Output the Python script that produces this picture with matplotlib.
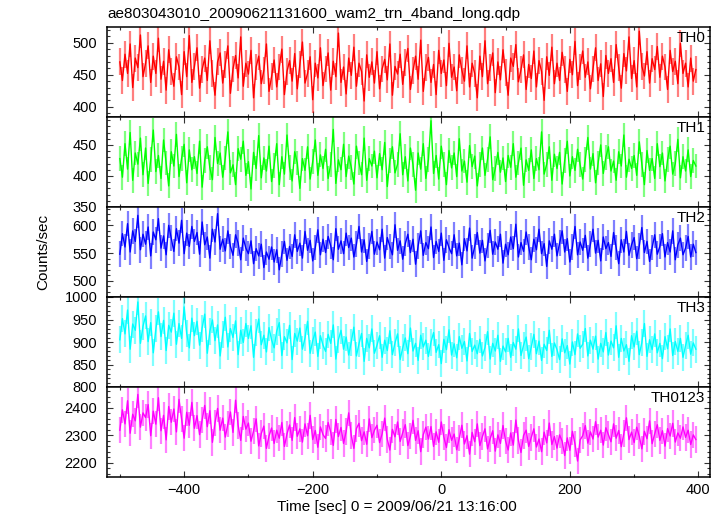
import matplotlib
matplotlib.use("Agg")
import matplotlib.pyplot as plt
from matplotlib.ticker import MultipleLocator
import numpy as np

plt.rcParams['font.family'] = ['Liberation Sans', 'DejaVu Sans']

# 光变曲线：4 s 一个bin，从 -500 s 开始
bin_start = -500
bin_width = 4
n_bins = 225

th0 = [
    470, 441, 482, 452, 498, 430, 476, 461, 512, 447,
    468, 495, 438, 479, 452, 507, 443, 471, 426, 489,
    455, 432, 478, 462, 419, 486, 447, 511, 438, 463,
    492, 429, 458, 476, 441, 503, 452, 418, 470, 484,
    437, 466, 495, 421, 459, 480, 445, 509, 432, 468,
    451, 488, 414, 462, 479, 436, 457, 498, 424, 447,
    473, 431, 462, 490, 419, 455, 472, 440, 483, 428,
    466, 501, 437, 452, 478, 411, 468, 445, 492, 433,
    459, 484, 426, 471, 447, 515, 438, 462, 420, 476,
    449, 493, 432, 468, 455, 409, 481, 446, 470, 437,
    486, 428, 459, 474, 442, 498, 418, 463, 451, 482,
    435, 469, 491, 427, 456, 479, 443, 504, 424, 461,
    477, 438, 466, 419, 488, 452, 473, 433, 499, 446,
    462, 425, 481, 457, 440, 495, 431, 468, 452, 414,
    479, 447, 503, 436, 461, 484, 422, 470, 442, 489,
    453, 418, 476, 463, 497, 439, 458, 481, 427, 466,
    444, 487, 431, 472, 455, 410, 478, 449, 493, 436,
    468, 441, 485, 458, 424, 474, 450, 502, 433, 462,
    487, 446, 470, 428, 459, 492, 441, 467, 416, 480,
    452, 475, 438, 497, 461, 429, 483, 456, 509, 444,
    472, 431, 518, 463, 448, 486, 437, 475, 458, 494,
    446, 479, 462, 427, 488, 455, 471, 436, 499, 452,
    468, 431, 476, 440, 458,
]

th1 = [
    428, 398, 452, 411, 470, 393, 437, 419, 461, 402,
    445, 388, 426, 474, 407, 433, 396, 458, 421, 384,
    439, 416, 467, 399, 428, 451, 389, 442, 410, 431,
    404, 456, 382, 425, 447, 413, 394, 462, 420, 437,
    398, 429, 471, 405, 418, 386, 444, 427, 456, 401,
    423, 379, 438, 412, 465, 397, 429, 408, 448, 391,
    417, 452, 386, 431, 403, 466, 414, 392, 439, 421,
    380, 428, 409, 447, 395, 423, 458, 401, 434, 412,
    443, 396, 419, 475, 388, 426, 410, 451, 399, 432,
    414, 387, 448, 421, 402, 461, 393, 428, 416, 440,
    397, 436, 410, 454, 383, 425, 447, 405, 419, 468,
    402, 431, 392, 445, 418, 377, 437, 411, 452, 396,
    426, 489, 404, 433, 395, 448, 419, 386, 441, 413,
    437, 399, 460, 408, 424, 390, 449, 415, 432, 384,
    418, 445, 401, 427, 463, 394, 412, 438, 406, 429,
    391, 433, 414, 452, 398, 421, 445, 385, 426, 409,
    442, 396, 428, 410, 471, 403, 419, 447, 393, 435,
    412, 438, 387, 425, 456, 400, 431, 409, 443, 418,
    395, 427, 462, 411, 436, 389, 421, 450, 404, 430,
    447, 408, 424, 393, 439, 416, 466, 398, 427, 412,
    433, 401, 455, 419, 386, 441, 409, 428, 396, 452,
    415, 437, 392, 426, 448, 403, 420, 459, 397, 431,
    408, 442, 399, 425, 416,
]

th2 = [
    548, 585, 561, 603, 552, 590, 571, 618, 556, 584,
    566, 597, 545, 588, 574, 612, 559, 581, 547, 600,
    577, 553, 594, 568, 609, 549, 586, 562, 598, 571,
    587, 548, 606, 565, 579, 541, 593, 570, 621, 557,
    575, 554, 590, 562, 546, 583, 568, 538, 577, 559,
    549, 572, 531, 558, 545, 566, 524, 552, 539, 561,
    534, 556, 520, 548, 571, 537, 562, 544, 583, 553,
    568, 541, 589, 555, 573, 536, 560, 592, 547, 575,
    551, 580, 563, 538, 594, 557, 572, 549, 586, 560,
    577, 543, 566, 598, 552, 574, 535, 563, 589, 548,
    570, 556, 593, 541, 578, 562, 547, 601, 555, 572,
    539, 567, 584, 551, 575, 530, 563, 590, 546, 569,
    558, 597, 542, 571, 553, 586, 537, 574, 560, 549,
    583, 545, 568, 529, 576, 554, 595, 541, 562, 587,
    550, 573, 536, 564, 591, 548, 570, 557, 584, 532,
    566, 547, 579, 558, 602, 543, 569, 553, 588, 561,
    538, 575, 556, 593, 549, 567, 526, 572, 557, 584,
    545, 568, 590, 552, 576, 534, 561, 598, 547, 570,
    555, 582, 541, 566, 593, 550, 573, 536, 579, 558,
    569, 544, 587, 560, 531, 574, 552, 589, 546, 565,
    578, 540, 563, 596, 551, 571, 535, 560, 583, 548,
    562, 585, 543, 569, 552, 590, 538, 565, 577, 547,
    559, 580, 543, 566, 551,
]

th3 = [
    905, 952, 918, 971, 884, 940, 926, 989, 897, 935,
    958, 901, 943, 876, 929, 967, 912, 948, 881, 937,
    922, 964, 895, 941, 908, 978, 919, 887, 953, 914,
    946, 893, 931, 962, 875, 924, 949, 903, 938, 869,
    917, 955, 889, 930, 910, 947, 872, 926, 899, 941,
    908, 936, 866, 921, 951, 894, 915, 878, 932, 905,
    887, 924, 943, 870, 912, 898, 937, 861, 919, 902,
    931, 884, 909, 946, 875, 903, 922, 868, 914, 893,
    879, 917, 897, 938, 862, 905, 926, 884, 911, 871,
    900, 933, 869, 896, 919, 857, 908, 887, 929, 875,
    893, 914, 866, 904, 881, 925, 872, 898, 918, 861,
    887, 909, 874, 931, 880, 897, 859, 915, 889, 904,
    868, 900, 921, 877, 894, 852, 906, 883, 927, 871,
    896, 865, 912, 886, 901, 858, 919, 879, 893, 874,
    906, 869, 888, 923, 862, 897, 880, 915, 857, 891,
    878, 908, 866, 899, 884, 929, 870, 893, 911, 863,
    889, 917, 874, 902, 859, 895, 881, 926, 868, 898,
    883, 861, 907, 876, 892, 851, 900, 872, 918, 886,
    895, 930, 869, 904, 884, 913, 862, 897, 878, 921,
    871, 902, 887, 936, 866, 908, 880, 894, 857, 914,
    889, 924, 872, 899, 941, 868, 905, 883, 918, 876,
    897, 863, 912, 885, 929, 870, 901, 879, 908, 866,
    892, 915, 873, 898, 884,
]

th0123 = [
    2318, 2392, 2341, 2425, 2307, 2376, 2352, 2448, 2329, 2381,
    2364, 2411, 2298, 2387, 2340, 2436, 2316, 2372, 2283, 2404,
    2347, 2395, 2312, 2430, 2358, 2289, 2383, 2336, 2419, 2325,
    2371, 2302, 2356, 2408, 2331, 2389, 2274, 2345, 2397, 2318,
    2362, 2293, 2340, 2384, 2310, 2427, 2335, 2281, 2368, 2322,
    2344, 2278, 2315, 2359, 2261, 2306, 2333, 2252, 2297, 2326,
    2270, 2318, 2289, 2346, 2259, 2305, 2337, 2281, 2364, 2296,
    2323, 2275, 2341, 2298, 2372, 2284, 2317, 2256, 2330, 2302,
    2288, 2346, 2311, 2263, 2357, 2295, 2328, 2270, 2314, 2381,
    2299, 2252, 2324, 2343, 2280, 2312, 2267, 2359, 2291, 2318,
    2336, 2273, 2305, 2362, 2285, 2246, 2321, 2294, 2348, 2277,
    2309, 2338, 2262, 2297, 2354, 2281, 2316, 2240, 2302, 2329,
    2286, 2331, 2259, 2312, 2274, 2348, 2293, 2255, 2320, 2281,
    2304, 2247, 2289, 2336, 2268, 2298, 2231, 2310, 2276, 2341,
    2262, 2295, 2323, 2250, 2287, 2316, 2242, 2301, 2270, 2335,
    2279, 2246, 2308, 2264, 2355, 2281, 2237, 2299, 2318, 2259,
    2292, 2323, 2257, 2286, 2240, 2311, 2272, 2344, 2266, 2295,
    2253, 2301, 2278, 2226, 2290, 2245, 2314, 2268, 2206, 2283,
    2298, 2335, 2271, 2312, 2286, 2349, 2293, 2318, 2264, 2327,
    2302, 2276, 2341, 2289, 2317, 2258, 2306, 2363, 2284, 2311,
    2273, 2329, 2296, 2250, 2314, 2287, 2352, 2269, 2305, 2338,
    2281, 2316, 2260, 2324, 2297, 2343, 2275, 2308, 2289, 2330,
    2292, 2318, 2266, 2301, 2284,
]

band_names = ["TH0", "TH1", "TH2", "TH3", "TH0123"]
band_values = [th0, th1, th2, th3, th0123]
band_errors = [21, 20, 23, 30, 48]  # 每个bin的误差棒（counts/sec）
band_colors = ["#ff0000", "#00ff00", "#0000ff", "#00ffff", "#ff00ff"]
band_ylims = [(384, 524.5), (350, 495), (471, 633), (800, 1000), (2148, 2475)]
band_major = [50, 50, 50, 50, 100]
band_minor = [10, 10, 10, 10, 20]

time = bin_start + bin_width * np.arange(n_bins)

fig = plt.figure(figsize=(7.24, 5.16), dpi=100)

W, H = 724, 516
left_px, right_px, top_px, panel_px = 107, 710, 27, 90

for i in range(5):
    bottom = 1 - (top_px + panel_px * (i + 1)) / H
    ax = fig.add_axes([left_px / W, bottom, (right_px - left_px) / W, panel_px / H])

    vals = np.array(band_values[i])
    err = band_errors[i]
    col = band_colors[i]
    # 误差棒（浅色）+ 数据折线
    ax.vlines(time, vals - err, vals + err, color=col, alpha=0.5, lw=1.6)
    ax.plot(time, vals, color=col, lw=1.0)

    ax.set_xlim(-520, 418)
    ax.set_ylim(*band_ylims[i])
    ax.xaxis.set_major_locator(MultipleLocator(200))
    ax.xaxis.set_minor_locator(MultipleLocator(100))
    ax.yaxis.set_major_locator(MultipleLocator(band_major[i]))
    ax.yaxis.set_minor_locator(MultipleLocator(band_minor[i]))
    ax.tick_params(which="both", direction="in", top=True, right=True,
                   labelsize=10.5, width=0.8, color="#333333")
    ax.tick_params(which="major", length=4)
    ax.tick_params(which="minor", length=2)
    ax.tick_params(axis="y", pad=7)
    ax.tick_params(axis="x", pad=4)
    for sp in ax.spines.values():
        sp.set_linewidth(1.1)
    if i < 4:
        ax.tick_params(labelbottom=False)

    ax.text(0.992, 0.878, band_names[i], transform=ax.transAxes,
            ha="right", va="center", fontsize=11)

fig.text(left_px / W, 1 - 14 / H, "ae803043010_20090621131600_wam2_trn_4band_long.qdp",
         ha="left", va="center", fontsize=11)
fig.text(43 / W, 1 - 252 / H, "Counts/sec", rotation=90,
         ha="center", va="center", fontsize=11)
fig.text(397 / W, 1 - 507 / H, "Time [sec] 0 = 2009/06/21 13:16:00",
         ha="center", va="center", fontsize=11)

fig.savefig("out.png", dpi=100)
